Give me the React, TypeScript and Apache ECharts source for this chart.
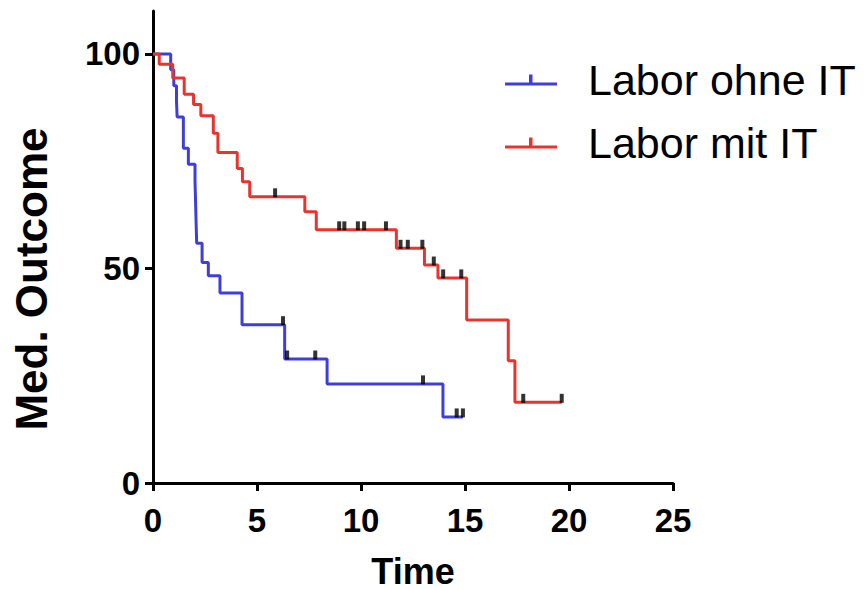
import React, { useEffect, useRef } from 'react';
import * as echarts from 'echarts';

const FONT = '"Liberation Sans", Arial, Helvetica, sans-serif';

const seriesNames = ['Labor ohne IT', 'Labor mit IT'];
const seriesColors = ['#3f3fd8', '#e8342f'];
const xTickValues = [0, 5, 10, 15, 20, 25];
const yTickValues = [0, 50, 100];

// Kaplan-Meier steps: [time, survival after event]
const blueSteps: [number, number][] = [
  [0, 100], [0.85, 96.3], [1.0, 92.6], [1.13, 88.9], [1.16, 85.3],
  [1.46, 78.0], [1.7, 74.3], [2.02, 70.4], [2.04, 66.7], [2.06, 63.0],
  [2.08, 59.3], [2.1, 55.9], [2.36, 51.4], [2.66, 48.3], [3.22, 44.3],
  [4.28, 36.9], [6.33, 28.9], [8.37, 23.1], [13.94, 15.4], [14.9, 15.4],
];
const blueCensored: [number, number][] = [
  [6.25, 36.9], [6.45, 28.9], [7.8, 28.9], [12.98, 23.1], [14.6, 15.4], [14.9, 15.4],
];

const redSteps: [number, number][] = [
  [0, 100], [0.3, 97.6], [0.95, 94.4], [1.5, 90.6], [1.95, 88.2], [2.3, 85.6],
  [2.9, 81.5], [3.12, 77.0], [4.05, 73.3], [4.3, 70.2], [4.65, 66.7],
  [7.3, 63.2], [7.85, 59.0], [11.7, 54.7], [13.05, 50.8], [13.7, 47.8],
  [15.08, 38.0], [17.08, 28.5], [17.4, 18.8], [19.65, 18.8],
];
const redCensored: [number, number][] = [
  [5.87, 66.7], [8.95, 59.0], [9.2, 59.0], [9.85, 59.0], [10.15, 59.0], [11.2, 59.0],
  [11.9, 54.7], [12.25, 54.7], [12.95, 54.7], [13.5, 50.8], [13.95, 47.8],
  [14.82, 47.8], [17.8, 18.8], [19.65, 18.8],
];

export default function App() {
  const ref = useRef<HTMLDivElement>(null);
  useEffect(() => {
    document.body.style.margin = '0';
    const chart = echarts.init(ref.current!, null, { renderer: 'svg' });
    const censorStyle = {
      type: 'scatter' as const,
      symbol: 'rect',
      symbolSize: [4, 9],
      symbolOffset: [0, -4],
      itemStyle: { color: '#000' },
      z: 5,
      silent: true,
    };
    chart.setOption({
      animation: false,
      backgroundColor: '#fff',
      textStyle: { fontFamily: FONT },
      grid: { left: 153, right: 193, top: 11, bottom: 107, containLabel: false, outerBoundsMode: 'none' },
      legend: {
        orient: 'vertical',
        left: 500,
        top: 52,
        itemWidth: 52,
        itemHeight: 12,
        itemGap: 17,
        icon: 'path://M0,9 H52 V12 H0 Z M24,1 H27.5 V10 H24 Z',
        data: seriesNames,
        textStyle: {
          fontFamily: FONT,
          fontSize: 43,
          lineHeight: 46,
          color: '#000',
          padding: [0, 0, 0, 26],
        },
      },
      xAxis: {
        type: 'value',
        min: 0,
        max: 25,
        interval: 5,
        name: 'Time',
        nameLocation: 'middle',
        nameGap: 70,
        nameTextStyle: { fontFamily: FONT, fontSize: 36, fontWeight: 'bold', color: '#000' },
        axisLine: { onZero: false, lineStyle: { color: '#000', width: 3 } },
        axisTick: { show: true, inside: false, length: 8, lineStyle: { color: '#000', width: 3 } },
        axisLabel: {
          fontFamily: FONT, fontSize: 33, fontWeight: 'bold', color: '#000', margin: 21,
          customValues: xTickValues,
        },
        splitLine: { show: false },
      },
      yAxis: {
        type: 'value',
        min: 0,
        max: 110,
        name: 'Med. Outcome',
        nameLocation: 'middle',
        nameRotate: 90,
        nameGap: 100,
        nameTextStyle: {
          fontFamily: FONT, fontSize: 44, fontWeight: 'bold', color: '#000',
          padding: [0, 64, 0, 0],
        },
        axisLine: { show: true, onZero: false, lineStyle: { color: '#000', width: 3 } },
        axisTick: {
          show: true, inside: false, length: 8, lineStyle: { color: '#000', width: 3 },
          customValues: yTickValues,
        },
        axisLabel: {
          fontFamily: FONT, fontSize: 33, fontWeight: 'bold', color: '#000', margin: 13,
          customValues: yTickValues,
        },
        splitLine: { show: false },
      },
      series: [
        {
          name: seriesNames[0],
          type: 'line',
          step: 'end',
          data: blueSteps,
          showSymbol: false,
          color: seriesColors[0],
          lineStyle: { color: seriesColors[0], width: 3 },
          z: 3,
        },
        {
          name: seriesNames[1],
          type: 'line',
          step: 'end',
          data: redSteps,
          showSymbol: false,
          color: seriesColors[1],
          lineStyle: { color: seriesColors[1], width: 3 },
          z: 3,
        },
        { ...censorStyle, name: 'c1', data: blueCensored },
        { ...censorStyle, name: 'c2', data: redCensored },
      ],
    });
    return () => chart.dispose();
  }, []);
  return <div ref={ref} style={{ width: 866, height: 590 }} />;
}
